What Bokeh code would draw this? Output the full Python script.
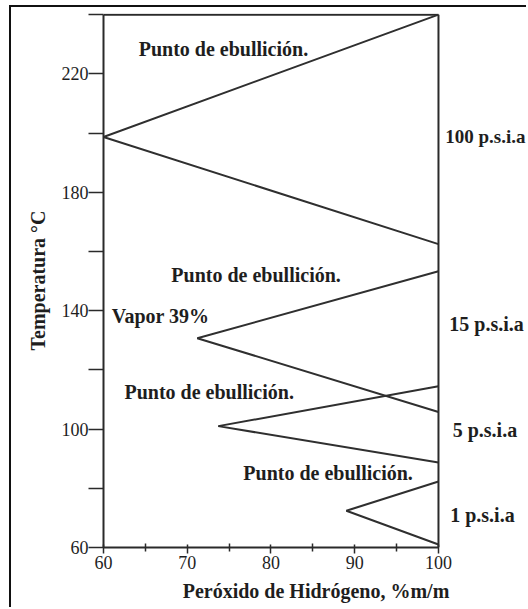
from bokeh.plotting import figure
from bokeh.models import Label, FixedTicker
from bokeh.embed import file_html
from bokeh.resources import INLINE

# Data
pressures = ["100 p.s.i.a", "15 p.s.i.a", "5 p.s.i.a", "1 p.s.i.a"]
vertex_x = [60.0, 71.2, 73.7, 89.0]          # % H2O2 at the tip of each curve pair
vertex_t = [198.7, 130.7, 101.0, 72.4]       # °C at the tip
upper_t_at_100 = [240.0, 153.3, 114.5, 82.3] # °C at 100 % (upper curve)
lower_t_at_100 = [162.5, 105.8, 88.7, 61.0]  # °C at 100 % (lower curve)
x_end = 100.0

x_ticks = [60, 70, 80, 90, 100]
x_minor = [65, 75, 85, 95]
y_ticks = [60, 80, 100, 120, 140, 160, 180, 200, 220, 240]
y_labels = {60: "60", 100: "100", 140: "140", 180: "180", 220: "220"}

annot_texts = ["Punto de ebullición.", "Punto de ebullición.", "Vapor 39%",
               "Punto de ebullición.", "Punto de ebullición."]
annot_x = [64.2, 68.1, 61.0, 62.5, 76.7]
annot_y = [228.5, 152.1, 138.2, 112.7, 85.0]
press_label_x = [100.8, 101.3, 101.7, 101.4]
press_label_y = [198.7, 135.4, 99.6, 71.1]

FONT = "Liberation Serif"
INK = "#1e1e1e"
LINE = "#2a2a2a"

p = figure(width=517, height=602, output_backend="svg", toolbar_location=None,
           x_range=(60, 110.75), y_range=(60, 240.4),
           min_border_left=92, min_border_right=0, min_border_top=6, min_border_bottom=62,
           styles={"border-top": "2px solid #111", "border-left": "2px solid #111",
                   "margin-left": "9px", "margin-top": "5px"})
p.background_fill_color = "white"
p.border_fill_color = "white"
p.xgrid.visible = False
p.ygrid.visible = False
p.outline_line_color = None

# plot box: top and right edges
p.line(x=[x_ticks[0], x_ticks[-1]], y=[y_ticks[-1], y_ticks[-1]], line_color=LINE, line_width=2)
p.line(x=[x_ticks[-1], x_ticks[-1]], y=[y_ticks[0], y_ticks[-1]], line_color=LINE, line_width=2)

for i in range(len(pressures)):
    p.line(x=[x_end, vertex_x[i], x_end],
           y=[upper_t_at_100[i], vertex_t[i], lower_t_at_100[i]],
           line_color="#2f2f2f", line_width=2)

# axes
p.xaxis.ticker = FixedTicker(ticks=x_ticks, minor_ticks=x_minor)
p.yaxis.ticker = FixedTicker(ticks=y_ticks, minor_ticks=[])
p.yaxis.major_label_overrides = {t: y_labels.get(t, "") for t in y_ticks}
p.xaxis.bounds = (x_ticks[0], x_ticks[-1])
p.yaxis.bounds = (y_ticks[0], y_ticks[-1])
for ax in (p.xaxis[0], p.yaxis[0]):
    ax.axis_line_color = LINE
    ax.axis_line_width = 2
    ax.major_tick_line_color = LINE
    ax.minor_tick_line_color = LINE
    ax.major_tick_line_width = 1.5
    ax.minor_tick_line_width = 1.5
    ax.major_label_text_font = FONT
    ax.major_label_text_font_size = "18px"
    ax.major_label_text_color = INK
    ax.axis_label_text_font = FONT
    ax.axis_label_text_font_size = "20px"
    ax.axis_label_text_font_style = "bold"
    ax.axis_label_text_color = INK

p.yaxis.major_tick_out = 15
p.yaxis.major_tick_in = 0
p.yaxis.major_label_standoff = 0
p.yaxis.axis_label = "Temperatura °C"
p.yaxis.axis_label_standoff = 10

p.xaxis.major_tick_out = 6
p.xaxis.major_tick_in = 3
p.xaxis.minor_tick_out = 4
p.xaxis.minor_tick_in = 4
p.xaxis.major_label_standoff = 2
p.xaxis.axis_label = "Peróxido de Hidrógeno, %m/m"
p.xaxis.axis_label_standoff = 8

for t, x, y in zip(annot_texts, annot_x, annot_y):
    p.add_layout(Label(x=x, y=y, text=t, text_font=FONT, text_font_size="20px",
                       text_font_style="bold", text_color=INK, text_baseline="middle",
                       text_align="left"))
for t, x, y in zip(pressures, press_label_x, press_label_y):
    p.add_layout(Label(x=x, y=y, text=t, text_font=FONT,
                       text_font_size="19px" if t.startswith("100") else "20px",
                       text_font_style="bold", text_color=INK, text_baseline="middle",
                       text_align="left"))

open("out.html", "w").write(file_html(p, INLINE))
